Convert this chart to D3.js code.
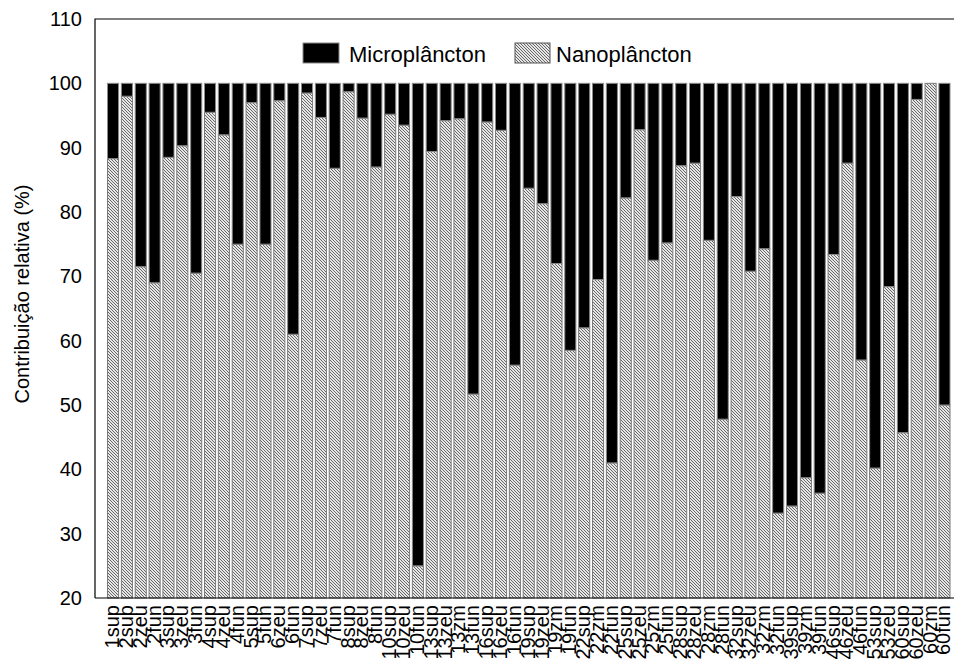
<!DOCTYPE html>
<html>
<head>
<meta charset="utf-8">
<script src="https://cdn.jsdelivr.net/npm/d3@7"></script>
<style>
  html, body { margin: 0; padding: 0; background: #fff; }
  svg { display: block; font-family: "Liberation Sans", Arial, sans-serif; }
</style>
</head>
<body>
<svg id="chart" width="954" height="661"></svg>
<script>
const categories = ["1sup","2sup","2zeu","2fun","3sup","3zeu","3fun","4sup","4zeu","4fun",
  "5sup","5fun","6zeu","6fun","7sup","7zeu","7fun","8sup","8zeu","8fun",
  "10sup","10zeu","10fun","13sup","13zeu","13zm","13fun","16sup","16zeu","16fun",
  "19sup","19zeu","19zm","19fun","22sup","22zm","22fun","25sup","25zeu","25zm","25fun",
  "28sup","28zeu","28zm","28fun","32sup","32zeu","32zm","32fun","39sup","39zm","39fun",
  "46sup","46zeu","46fun","53sup","53zeu","60sup","60zeu","60zm","60fun"];
const nanoplancton = [88.3,98,71.5,69,88.5,90.3,70.5,95.5,92,75,
  97,75,97.3,61,98.5,94.7,86.8,98.7,94.6,87,
  95.2,93.5,25,89.4,94.2,94.5,51.7,94,92.7,56.2,
  83.7,81.3,72,58.5,62,69.5,41,82.2,92.8,72.5,75.2,
  87.2,87.6,75.6,47.8,82.4,70.8,74.3,33.2,34.3,38.7,36.3,
  73.4,87.6,57,40.2,68.4,45.7,97.5,100,50];
const microplancton = nanoplancton.map(v => 100 - v);
const yTicks = [20,30,40,50,60,70,80,90,100,110];
const seriesNames = ["Microplâncton","Nanoplâncton"];

(function () {
const svg = d3.select("#chart");
const defs = svg.append("defs");
const pat = defs.append("pattern").attr("id","hatch").attr("patternUnits","userSpaceOnUse")
  .attr("width",3).attr("height",3);
pat.append("rect").attr("width",3).attr("height",3).attr("fill","#e6e6e6");
pat.append("path").attr("d","M0,0 L3,3 M-1,2 L1,4 M2,-1 L4,1").attr("stroke","#5a5a5a").attr("stroke-width",0.9);

const mLeft = 95, mRight = 952, mTop = 19, mBottom = 598;
const y = d3.scaleLinear().domain([20,110]).range([mBottom, mTop]);
const x = d3.scaleBand().domain(categories).range([107.5, 950]).paddingInner(0.2).paddingOuter(0);

const data = categories.map((c,i) => ({c, nano: nanoplancton[i], micro: microplancton[i]}));

const g = svg.append("g");
g.selectAll("rect.nano").data(data).join("rect")
  .attr("x", d => x(d.c)).attr("width", x.bandwidth())
  .attr("y", d => y(d.nano)).attr("height", d => y(20) - y(d.nano))
  .attr("fill","url(#hatch)").attr("stroke","#7a7a7a").attr("stroke-width",1);
g.selectAll("rect.micro").data(data.filter(d => d.micro > 0)).join("rect")
  .attr("x", d => x(d.c)).attr("width", x.bandwidth())
  .attr("y", d => y(100)).attr("height", d => y(d.nano) - y(100))
  .attr("fill","#000").attr("stroke","#8a8a8a").attr("stroke-width",1);

svg.append("path").attr("d", `M${mLeft},${mBottom} L${mLeft},${mTop} L${mRight+2},${mTop}`)
  .attr("fill","none").attr("stroke","#000").attr("stroke-width",1.2);
svg.append("line").attr("x1",mLeft).attr("x2",mRight+2).attr("y1",mBottom).attr("y2",mBottom)
  .attr("stroke","#000").attr("stroke-width",1.2);

const yAxis = d3.axisLeft(y).tickValues(yTicks).tickSize(0).tickPadding(13);
const ya = svg.append("g").attr("transform",`translate(${mLeft},0)`).call(yAxis);
ya.select(".domain").remove();
ya.selectAll("text").attr("font-size",20).attr("fill","#000").attr("font-family","Liberation Sans, Arial, sans-serif");

const xAxis = d3.axisBottom(x).tickSize(0).tickPadding(0);
const xa = svg.append("g").attr("transform",`translate(0,${mBottom})`).call(xAxis);
xa.select(".domain").remove();
xa.selectAll("text")
  .attr("font-size",20).attr("fill","#000").attr("font-family","Liberation Sans, Arial, sans-serif")
  .attr("text-anchor","end")
  .attr("transform","rotate(-90)")
  .attr("x",-7).attr("y",0).attr("dy","0.3em");

svg.append("text").attr("transform","translate(29,294) rotate(-90)")
  .attr("text-anchor","middle").attr("font-size",20).text("Contribuição relativa (%)");

const leg = svg.append("g");
leg.append("rect").attr("x",303).attr("y",43).attr("width",36).attr("height",20)
  .attr("fill","#000").attr("stroke","#8a8a8a");
leg.append("text").attr("x",349).attr("y",61.5).attr("font-size",22).text(seriesNames[0]);
leg.append("rect").attr("x",515).attr("y",43).attr("width",35).attr("height",20)
  .attr("fill","url(#hatch)").attr("stroke","#555");
leg.append("text").attr("x",556).attr("y",61.5).attr("font-size",22).text(seriesNames[1]);
})();
</script>
</body>
</html>
